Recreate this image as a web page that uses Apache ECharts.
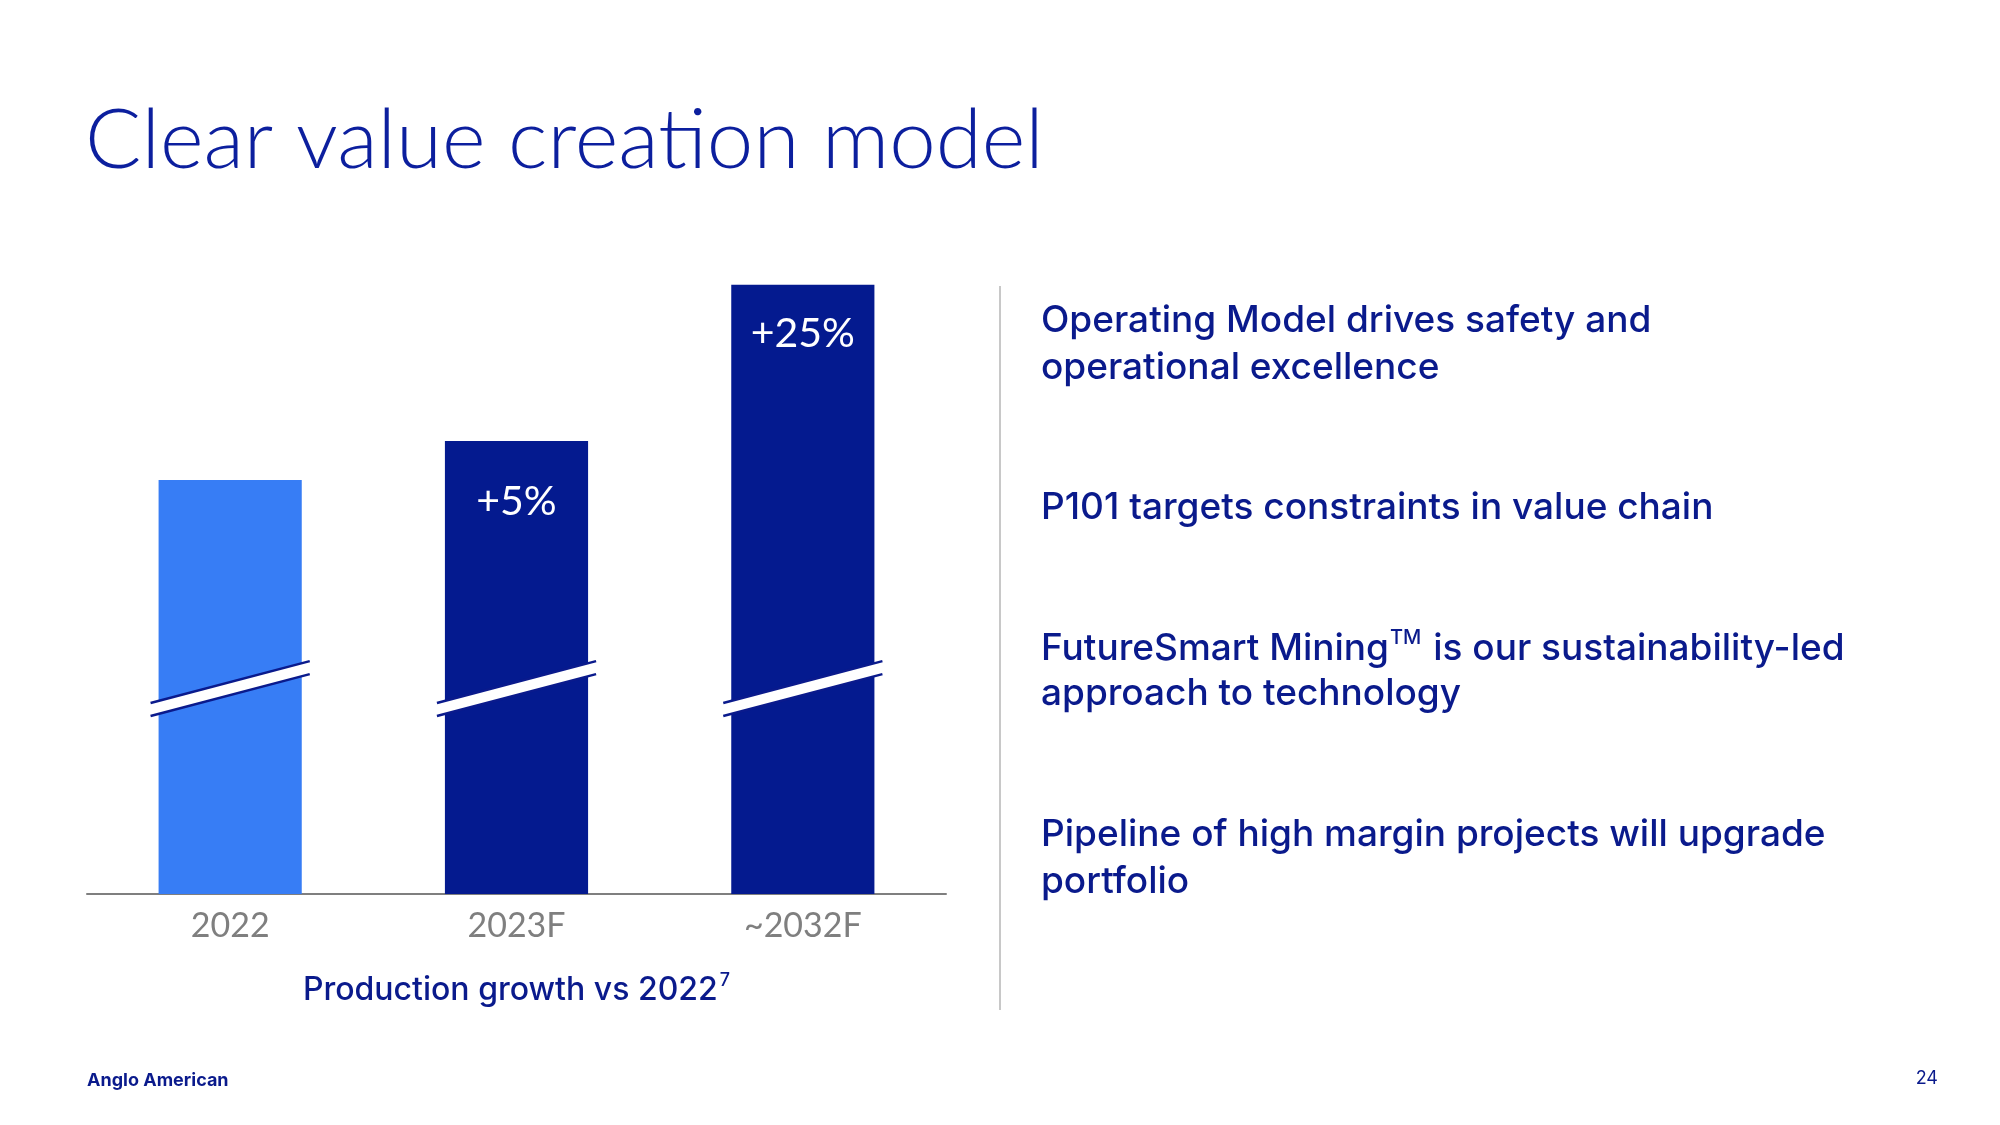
<!DOCTYPE html>
<html>
<head>
<meta charset="utf-8">
<script src="https://cdn.jsdelivr.net/npm/echarts@6/dist/echarts.min.js"></script>
<style>
  html, body { margin: 0; padding: 0; background: #ffffff; }
  #chart { width: 2000px; height: 1125px; }
</style>
</head>
<body>
<div id="chart"></div>
<script>
// ---- Data ----
const categories = ['2022', '2023F', '~2032F'];
const productionIndex = [100, 105, 125];          // production, 2022 = 100
const growthLabels = ['', '+5%', '+25%'];
const barColors = ['#377DF5', '#041A8F', '#041A8F'];
const breakAt = 73.3;                              // axis break drawn at this value
const titleText = 'Clear value creation model';
const axisTitle = 'Production growth vs 2022';
const axisTitleNote = '7';
const highlights = [
  ['Operating Model drives safety and', 'operational excellence'],
  ['P101 targets constraints in value chain'],
  ['FutureSmart Mining{tm|TM} is our sustainability-led', 'approach to technology'],
  ['Pipeline of high margin projects will upgrade', 'portfolio']
];
const footerLeft = 'Anglo American';
const pageNumber = '24';

// ---- Styles ----
const NAVY = '#0A1A8C';
const TITLE_BLUE = '#0C1F9E';
const GRAY = '#7F7F7F';
const labelDistance = [0, 40, 29];

const chart = echarts.init(document.getElementById('chart'), null, { renderer: 'canvas' });

const barData = productionIndex.map((v, i) => ({
  value: v,
  itemStyle: { color: barColors[i] },
  label: {
    show: growthLabels[i] !== '',
    formatter: growthLabels[i],
    position: 'insideTop',
    distance: labelDistance[i]
  }
}));

const highlightTops = [302, 489, 628, 816];
const lineGap = 47;
const graphicEls = [];
highlights.forEach((lines, k) => {
  lines.forEach((ln, j) => {
    graphicEls.push({
      type: 'text',
      left: 1041,
      top: highlightTops[k] + j * lineGap,
      style: {
        text: ln,
        fill: NAVY,
        font: '500 37px Inter',
        rich: {
          tm: { fontSize: 20, fontFamily: 'Inter', fontWeight: 500, fill: NAVY, verticalAlign: 'top', padding: [0, 2, 22, 1] }
        }
      }
    });
  });
});
graphicEls.push(
  { type: 'line', shape: { x1: 1000, y1: 286, x2: 1000, y2: 1010 }, style: { stroke: '#C8C8C8', lineWidth: 2 } },
  { type: 'text', left: 87, top: 1072, style: { text: footerLeft, fill: NAVY, font: 'bold 18px Inter' } },
  { type: 'text', right: 62, top: 1070, style: { text: pageNumber, fill: NAVY, font: '18px Inter' } }
);

const option = {
  backgroundColor: '#ffffff',
  animation: false,
  title: {
    text: titleText,
    left: 80,
    top: 94,
    textStyle: { color: TITLE_BLUE, fontFamily: 'Lato', fontWeight: 300, fontSize: 83.5 }
  },
  grid: { left: 87, right: 1054, top: 269, bottom: 231, containLabel: false },
  xAxis: {
    type: 'category',
    data: categories,
    axisLine: { lineStyle: { color: GRAY, width: 2 } },
    axisTick: { show: false },
    axisLabel: { color: GRAY, fontFamily: 'Lato', fontSize: 34, margin: 15 },
    name: axisTitle + '{sup|' + axisTitleNote + '}',
    nameLocation: 'middle',
    nameGap: 78,
    nameTextStyle: {
      color: NAVY, fontFamily: 'Inter', fontWeight: 500, fontSize: 32,
      rich: { sup: { color: NAVY, fontFamily: 'Inter', fontSize: 18, verticalAlign: 'top', padding: [0, 0, 18, 2] } }
    }
  },
  yAxis: {
    type: 'value',
    min: 47,
    max: 127,
    show: false,
    splitLine: { show: false }
  },
  series: [
    {
      type: 'bar',
      data: barData,
      barWidth: '50%',
      label: { color: '#ffffff', fontFamily: 'Lato', fontSize: 41 },
      z: 2
    },
    {
      type: 'custom',
      z: 5,
      data: categories.map((c, i) => [i, breakAt]),
      renderItem: function (params, api) {
        const c = api.coord([api.value(0), api.value(1)]);
        const bw = api.size([1, 0])[0] * 0.5;
        const half = bw / 2 + 8;
        const rise = half * (42 / 160);
        const th = 13;
        const cx = c[0], cy = c[1];
        const tl = [cx - half, cy + rise - th / 2];
        const tr = [cx + half, cy - rise - th / 2];
        const br = [cx + half, cy - rise + th / 2];
        const bl = [cx - half, cy + rise + th / 2];
        return {
          type: 'group',
          children: [
            { type: 'polygon', shape: { points: [tl, tr, br, bl] }, style: { fill: '#ffffff' } },
            { type: 'line', shape: { x1: tl[0], y1: tl[1], x2: tr[0], y2: tr[1] }, style: { stroke: NAVY, lineWidth: 2.5 } },
            { type: 'line', shape: { x1: bl[0], y1: bl[1], x2: br[0], y2: br[1] }, style: { stroke: NAVY, lineWidth: 2.5 } }
          ]
        };
      }
    }
  ],
  graphic: graphicEls
};
chart.setOption(option);
</script>
</body>
</html>
